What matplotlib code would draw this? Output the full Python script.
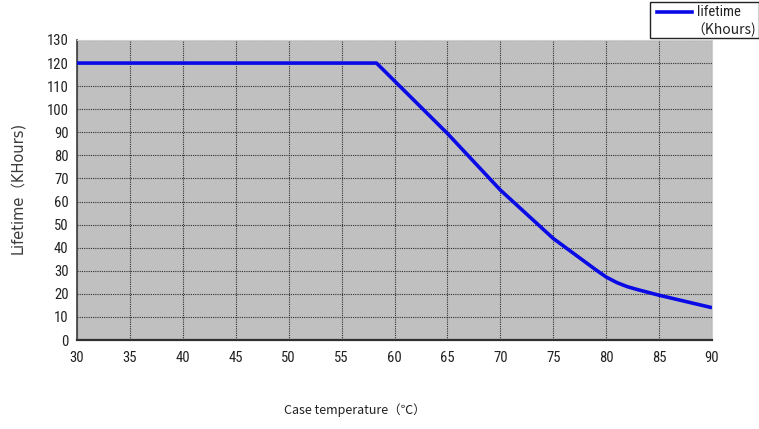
import matplotlib
matplotlib.use("Agg")
import matplotlib.pyplot as plt
from matplotlib.lines import Line2D
from matplotlib.patches import Rectangle
from matplotlib import font_manager as fm

temps = [30, 58.3, 65, 70, 75, 79, 80, 81, 82, 83, 85, 90]
lifetime = [120, 120, 89.5, 65.0, 44.0, 30.5, 27.3, 24.9, 23.1, 21.8, 19.4, 14.0]
xticks = list(range(30, 91, 5))
yticks = list(range(0, 131, 10))


def pick(cands):
    for c in cands:
        try:
            fm.findfont(fm.FontProperties(family=c), fallback_to_default=False)
            return c
        except Exception:
            pass
    return 'DejaVu Sans'


narrow = pick(['Liberation Sans Narrow', 'DejaVu Sans Condensed', 'Roboto Condensed', 'Open Sans Condensed'])
narrow_ok = narrow != 'DejaVu Sans'

fig = plt.figure(figsize=(7.59, 4.29), dpi=100)
ax = fig.add_axes([77/759, 1-340/429, (712-77)/759, 300/429])
ax.set_facecolor('#c0c0c0')
ax.plot(temps, lifetime, color='#0a0ae6', lw=2.6, solid_joinstyle='round',
        solid_capstyle='butt', zorder=3)
ax.set_xlim(30, 90)
ax.set_ylim(0, 130)
ax.set_xticks(xticks)
ax.set_yticks(yticks)
ax.grid(True, color='#303030', linestyle=(0, (1, 1)), linewidth=0.8)
ax.tick_params(axis='both', length=0, labelsize=10.5 if narrow_ok else 9.5, colors='#222222')
ax.tick_params(axis='x', pad=8)
ax.tick_params(axis='y', pad=6)
for lab in ax.get_xticklabels() + ax.get_yticklabels():
    lab.set_fontfamily([narrow, 'DejaVu Sans'])
for s in ['top', 'right']:
    ax.spines[s].set_color('#d0d0d0')
    ax.spines[s].set_linewidth(0.8)
ax.spines['left'].set_color('#404040')
ax.spines['bottom'].set_color('#303030')
ax.spines['bottom'].set_linewidth(1.6)
ax.spines['left'].set_linewidth(1.2)

fig.text(18/759, 1-188/429, 'Lifetime（KHours)', rotation=90, ha='center', va='center',
         fontsize=10.5, family=['DejaVu Sans', 'Noto Sans CJK SC'], color='#3a3a3a')
fig.text(355/759, 1-410/429, 'Case temperature（℃）', ha='center', va='center',
         fontsize=9, family=['Noto Sans CJK SC', 'DejaVu Sans'], color='#222222')

# legend box
fig.patches.append(Rectangle((650/759, 1-38/429), (759-650)/759, 36/429,
                             transform=fig.transFigure, facecolor='white',
                             edgecolor='#222222', lw=1.0, zorder=5))
fig.lines.append(Line2D([657/759, 692/759], [1-12/429, 1-12/429],
                        transform=fig.transFigure, color='#0a0ae6', lw=2.6, zorder=6))
fig.text(697/759, 1-12/429, 'lifetime', ha='left', va='center', fontsize=10.5,
         family=[narrow, 'DejaVu Sans'], zorder=7, color='#222222')
fig.text(756/759, 1-30/429, '（Khours)', ha='right', va='center', fontsize=10,
         family=['Noto Sans CJK SC', 'DejaVu Sans'], zorder=7, color='#222222')

fig.savefig('out.png', dpi=100)
